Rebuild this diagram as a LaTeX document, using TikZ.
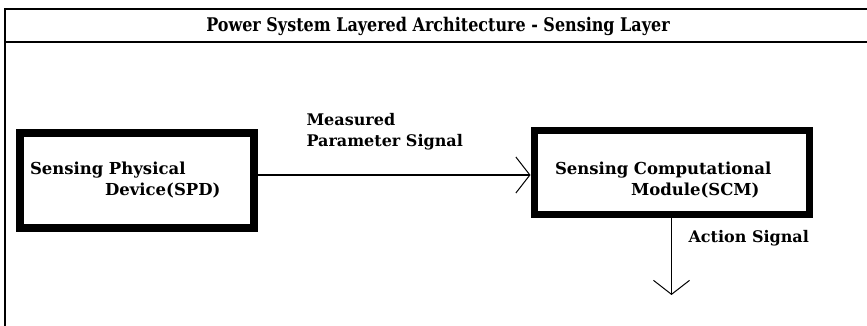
\documentclass[tikz,border=0pt]{standalone}
\usepackage{fontspec}
\setmainfont{DejaVu Serif}
\newfontfamily\titlefont[FakeStretch=0.85]{DejaVu Serif}
\usetikzlibrary{arrows.meta}

\tikzset{
	layerbox/.style = {draw, rectangle, align = left, font = \bfseries\fontsize{16.5}{21}\selectfont},
	sig/.style = {line width = 1.3pt, -{Straight Barb[length = 14pt, width = 36pt, line width = 1pt]}},
	siglabel/.style = {font = \bfseries\fontsize{16}{21}\selectfont, align = left}
}

\begin{document}
\begin{tikzpicture}[x = 1pt, y = -1pt]
		\useasboundingbox (0,0) rectangle (867,326);
		\draw[line width = 1.8pt] (867,9) -- (5,9) -- (5,326);
		\draw[line width = 2.5pt] (5,42) -- (867,42);
		\node (title) at (438,26) {\titlefont\bfseries\fontsize{18.8}{20}\selectfont Power System Layered Architecture - Sensing Layer};

		\node[layerbox, line width = 8pt, minimum width = 234.5pt, minimum height = 95pt, text width = 214pt] (spd) at (137,180.5) {Sensing Physical\\\hspace*{75pt}Device(SPD)};
		\node[layerbox, line width = 7pt, minimum width = 275pt, minimum height = 83pt, text width = 233pt, text depth = 9pt] (scm) at (671.5,172.5) {Sensing Computational\\\hspace*{76pt}Module(SCM)};

		\draw[sig] ([yshift = -2.5pt]spd.east |- scm.west) -- ([yshift = -2.5pt]scm.west);
		\node[siglabel, anchor = west] (msig) at (303,132) {Measured\\Parameter Signal};

		\coordinate (actend) at (scm.south |- 0,295);
		\draw[sig] (scm.south) -- (actend);
		\node[siglabel, anchor = west] (asig) at (685,238) {Action Signal};
	\end{tikzpicture}
\end{document}
